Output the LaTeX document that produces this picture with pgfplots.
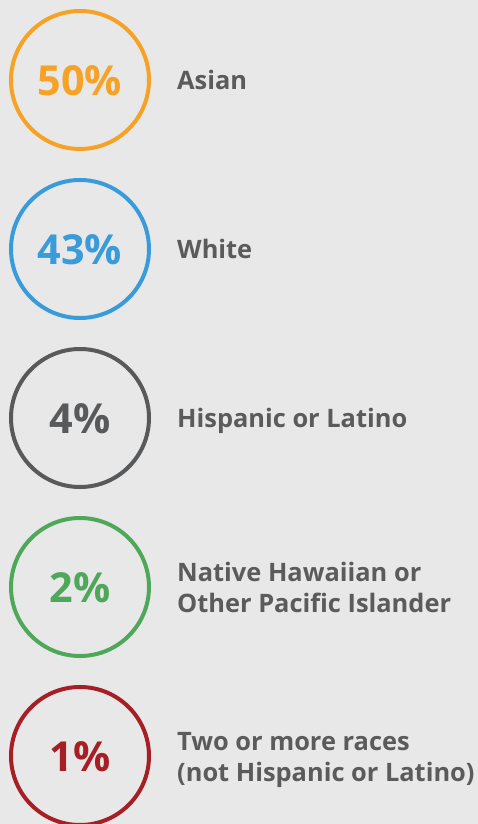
\documentclass[border=0pt]{standalone}
\usepackage{pgfplots}
\pgfplotsset{compat=1.18}
\usepackage{fontspec}
\setmainfont{Open Sans}
\definecolor{bg}{HTML}{E8E8E8}
\definecolor{txt}{HTML}{5B5B5B}
\definecolor{cA}{HTML}{F6A227}
\definecolor{cW}{HTML}{3A9BDB}
\definecolor{cH}{HTML}{58595B}
\definecolor{cN}{HTML}{4FA85A}
\definecolor{cT}{HTML}{A51F25}
\begin{document}
\begin{tikzpicture}
\fill[bg] (0,0) rectangle (478bp,824bp);
\begin{axis}[
  at={(0,0)}, anchor=south west,
  scale only axis, x=1bp, y=1bp,
  xmin=0, xmax=478, ymin=0, ymax=824,
  axis lines=none, clip=false,
  point meta=explicit symbolic,
  nodes near coords,
  every node near coord/.style={anchor=base, yshift=-15.5bp, font=\bfseries\fontsize{41.5}{50}\selectfont},
]
\addplot[only marks, mark=o, mark size=69bp, mark options={line width=4bp, draw=cA}, every node near coord/.append style={text=cA}] coordinates {(80,744) [50\%]};
\addplot[only marks, mark=o, mark size=69bp, mark options={line width=4bp, draw=cW}, every node near coord/.append style={text=cW}] coordinates {(80,575) [43\%]};
\addplot[only marks, mark=o, mark size=69bp, mark options={line width=4bp, draw=cH}, every node near coord/.append style={text=cH}] coordinates {(80,406) [4\%]};
\addplot[only marks, mark=o, mark size=69bp, mark options={line width=4bp, draw=cN}, every node near coord/.append style={text=cN}] coordinates {(80,237) [2\%]};
\addplot[only marks, mark=o, mark size=69bp, mark options={line width=4bp, draw=cT}, every node near coord/.append style={text=cT}] coordinates {(80,68) [1\%]};
\begin{scope}[every node/.style={anchor=base west, inner sep=0pt, text=txt, font=\bfseries\fontsize{25.5}{30}\selectfont}]
\node at (axis cs:177,734) {Asian};
\node at (axis cs:177,565) {White};
\node at (axis cs:177,396) {Hispanic or Latino};
\node at (axis cs:177,243) {Native Hawaiian or};
\node at (axis cs:177,212) {Other Pacific Islander};
\node at (axis cs:177,74) {Two or more races};
\node at (axis cs:177,43) {(not Hispanic or Latino)};
\end{scope}
\end{axis}
\pgfresetboundingbox
\path[use as bounding box] (0,0) rectangle (478bp,824bp);
\end{tikzpicture}
\end{document}
